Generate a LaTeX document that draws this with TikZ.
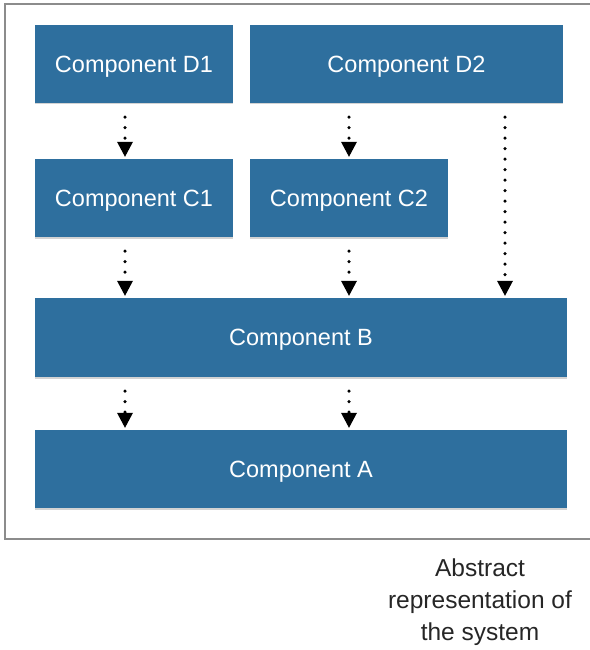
\documentclass[tikz,border=0pt]{standalone}
\usepackage{fontspec}
\setmainfont{Liberation Sans}
\usetikzlibrary{arrows.meta,shadows}
\definecolor{compblue}{RGB}{46,111,158}
\definecolor{framegray}{RGB}{140,140,140}
\tikzset{
	comp/.style={draw=none,fill=compblue,text=white,font=\fontsize{23.5}{28}\selectfont,
		drop shadow={opacity=0.35,shadow xshift=0pt,shadow yshift=-1.5pt},inner sep=0pt,
		text depth=0pt},
	flow/.style={line width=3.5pt,line cap=round,dash pattern=on 0pt off 10.5pt,
		-{Triangle[width=16pt,length=15pt,line width=0pt]}}
}
\begin{document}
\begin{tikzpicture}[x=1pt,y=-1pt]
\useasboundingbox (0,0) rectangle (589,650);
\draw[framegray,line width=2pt] (5,4) rectangle (600,539);
% components
\node[comp,minimum width=198pt,minimum height=78pt] (d1) at (134,64) {Component D1};
\node[comp,minimum width=313pt,minimum height=78pt] (d2) at (406.5,64) {Component D2};
\node[comp,minimum width=198pt,minimum height=78pt] (c1) at (134,198) {Component C1};
\node[comp,minimum width=198pt,minimum height=78pt] (c2) at (349,198) {Component C2};
\node[comp,minimum width=532pt,minimum height=79pt] (b) at (301,337.5) {Component B};
\node[comp,minimum width=532pt,minimum height=78pt] (a) at (301,469) {Component A};
% columns of the arrows
\coordinate (colL) at (125,0);
\coordinate (colM) at (349,0);
\coordinate (colR) at (505,0);
\foreach \src/\dst/\col in {d1/c1/colL,c1/b/colL,b/a/colL,d2/c2/colM,c2/b/colM,b/a/colM,d2/b/colR}{
	\draw[flow] ([yshift=-14pt]\src.south -| \col) -- ([yshift=2pt]\dst.north -| \col);}
\node[align=center,text=black!85,font=\fontsize{24.5}{32}\selectfont] (cap) at (480,602)
	{Abstract\\representation of\\the system};
\end{tikzpicture}
\end{document}
